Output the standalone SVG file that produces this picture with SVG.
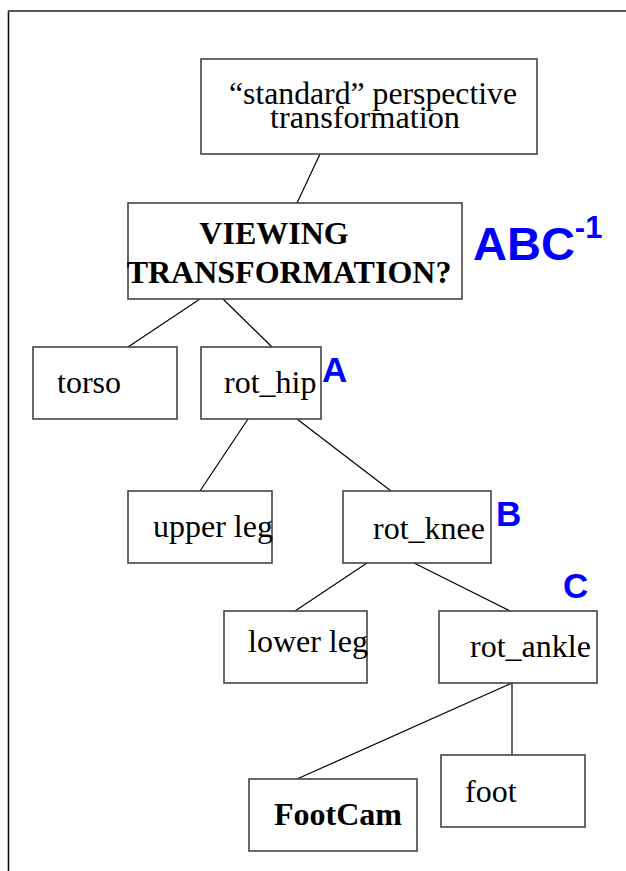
<svg xmlns="http://www.w3.org/2000/svg" width="626" height="871" viewBox="0 0 626 871">
<style>
.box{fill:#fff;stroke:#444;stroke-width:1.6}
.t{font-family:"Liberation Serif","Times New Roman",serif;font-size:32px;fill:#000}
.b{font-weight:bold}
.lbl{font-family:"Liberation Sans",Arial,sans-serif;font-weight:bold;fill:#0000ff}
.c{stroke:#000;stroke-width:1.2;fill:none}
</style>
<rect width="626" height="871" fill="#fff"/>
<g id="frame">
<line x1="8.5" y1="871" x2="8.5" y2="11" stroke="#111" stroke-width="1.6"/>
<line x1="8" y1="11" x2="626" y2="11" stroke="#555" stroke-width="2"/>
</g>
<g id="connectors">
<line class="c" x1="320" y1="154" x2="297" y2="203"/>
<line class="c" x1="200" y1="299" x2="128" y2="347"/>
<line class="c" x1="223" y1="299" x2="272" y2="347"/>
<line class="c" x1="248" y1="419" x2="200" y2="491"/>
<line class="c" x1="297" y1="419" x2="391" y2="491"/>
<line class="c" x1="367" y1="563" x2="295" y2="611"/>
<line class="c" x1="414" y1="563" x2="510" y2="611"/>
<line class="c" x1="512" y1="683" x2="297" y2="779"/>
<line class="c" x1="512" y1="683" x2="512" y2="755"/>
</g>
<g id="perspective">
<rect class="box" x="201" y="59" width="336" height="95"/>
<text class="t" x="229" y="104" font-size="30" textLength="288" lengthAdjust="spacingAndGlyphs">“standard” perspective</text>
<text class="t" x="270" y="128" font-size="30" textLength="190" lengthAdjust="spacingAndGlyphs">transformation</text>
</g>
<g id="viewing">
<rect class="box" x="128" y="203" width="334" height="96"/>
<text class="t b" x="274" y="244" text-anchor="middle">VIEWING</text>
<text class="t b" x="289" y="283" text-anchor="middle">TRANSFORMATION?</text>
</g>
<g id="abc">
<text class="lbl" x="473" y="260" font-size="47">ABC<tspan font-size="31" dy="-22">-1</tspan></text>
</g>
<g id="torso">
<rect class="box" x="33" y="347" width="144" height="72"/>
<text class="t" x="57" y="393">torso</text>
</g>
<g id="rot_hip">
<rect class="box" x="201" y="347" width="120" height="72"/>
<text class="t" x="224" y="393">rot_hip</text>
<text class="lbl" x="322" y="382" font-size="35">A</text>
</g>
<g id="upper_leg">
<rect class="box" x="128" y="491" width="144" height="72"/>
<text class="t" x="153" y="537">upper leg</text>
</g>
<g id="rot_knee">
<rect class="box" x="343" y="491" width="148" height="72"/>
<text class="t" x="373" y="539">rot_knee</text>
<text class="lbl" x="496" y="526" font-size="35">B</text>
</g>
<g id="lower_leg">
<rect class="box" x="224" y="611" width="143" height="72"/>
<text class="t" x="248" y="652">lower leg</text>
</g>
<g id="rot_ankle">
<rect class="box" x="439" y="611" width="158" height="72"/>
<text class="t" x="470" y="657">rot_ankle</text>
<text class="lbl" x="563" y="598" font-size="35">C</text>
</g>
<g id="footcam">
<rect class="box" x="249" y="779" width="168" height="72"/>
<text class="t b" x="274" y="825">FootCam</text>
</g>
<g id="foot">
<rect class="box" x="441" y="755" width="144" height="72"/>
<text class="t" x="465" y="802">foot</text>
</g>
</svg>
